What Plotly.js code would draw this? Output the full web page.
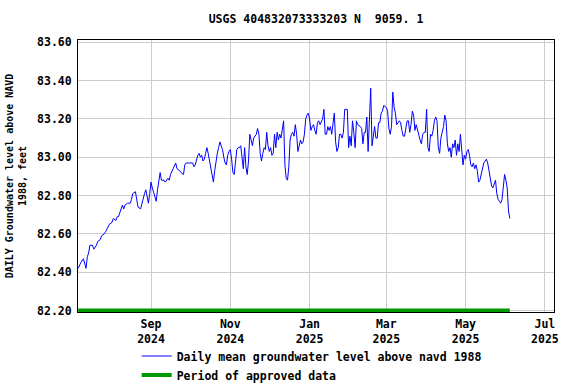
<!DOCTYPE html>
<html>
<head>
<meta charset="utf-8">
<script src="https://cdn.plot.ly/plotly-3.0.1.min.js"></script>
<style>html,body{margin:0;padding:0;background:#fff;}#chart{width:576px;height:384px;}</style>
</head>
<body>
<div id="chart"></div>
<script>
const chartTitle = 'USGS 404832073333203 N  9059. 1';
const yTitle = 'DAILY Groundwater level above NAVD<br>1988, feet';
const seriesName = 'Daily mean groundwater level above navd 1988';
const approvedName = 'Period of approved data';

const dates = [
'2024-07-07','2024-07-09','2024-07-11','2024-07-12','2024-07-13','2024-07-14','2024-07-15','2024-07-16','2024-07-18','2024-07-19',
'2024-07-21','2024-07-22','2024-07-24','2024-07-25','2024-07-27','2024-07-28','2024-07-30','2024-07-31',
'2024-08-02','2024-08-03','2024-08-05','2024-08-06','2024-08-07','2024-08-08','2024-08-10','2024-08-11','2024-08-12','2024-08-14',
'2024-08-16','2024-08-17','2024-08-18','2024-08-20','2024-08-21','2024-08-22','2024-08-24','2024-08-25','2024-08-26','2024-08-27',
'2024-08-28','2024-08-29','2024-08-30','2024-08-31',
'2024-09-01','2024-09-02','2024-09-04','2024-09-05','2024-09-06','2024-09-07','2024-09-08','2024-09-09','2024-09-11','2024-09-12',
'2024-09-14','2024-09-15','2024-09-16','2024-09-18','2024-09-19','2024-09-20','2024-09-21','2024-09-23','2024-09-24','2024-09-26',
'2024-09-27','2024-09-28','2024-09-30',
'2024-10-02','2024-10-03','2024-10-04','2024-10-05','2024-10-07','2024-10-08','2024-10-09','2024-10-10','2024-10-11','2024-10-12',
'2024-10-13','2024-10-14','2024-10-15','2024-10-16','2024-10-17','2024-10-18','2024-10-19','2024-10-20','2024-10-21','2024-10-22',
'2024-10-23','2024-10-24','2024-10-25','2024-10-26','2024-10-27','2024-10-28','2024-10-29','2024-10-30','2024-10-31',
'2024-11-01','2024-11-02','2024-11-03','2024-11-04','2024-11-05','2024-11-06','2024-11-07','2024-11-08','2024-11-09','2024-11-10',
'2024-11-11','2024-11-12','2024-11-13','2024-11-14','2024-11-15','2024-11-16','2024-11-17','2024-11-18','2024-11-19','2024-11-20',
'2024-11-21','2024-11-22','2024-11-23','2024-11-24','2024-11-25','2024-11-26','2024-11-27','2024-11-28','2024-11-29','2024-11-30',
'2024-12-01','2024-12-02','2024-12-03','2024-12-04','2024-12-05','2024-12-06','2024-12-07','2024-12-08','2024-12-09','2024-12-10',
'2024-12-11','2024-12-12','2024-12-13','2024-12-14','2024-12-15','2024-12-16','2024-12-17','2024-12-18','2024-12-19','2024-12-20',
'2024-12-21','2024-12-22','2024-12-23','2024-12-24','2024-12-25','2024-12-26','2024-12-27','2024-12-28','2024-12-29','2024-12-30',
'2024-12-31',
'2025-01-01','2025-01-02','2025-01-03','2025-01-04','2025-01-05','2025-01-06','2025-01-07','2025-01-08','2025-01-09','2025-01-10',
'2025-01-11','2025-01-12','2025-01-13','2025-01-14','2025-01-15','2025-01-16','2025-01-17','2025-01-18','2025-01-20','2025-01-21',
'2025-01-22','2025-01-23','2025-01-24','2025-01-25','2025-01-26','2025-01-27','2025-01-28','2025-01-29','2025-01-30','2025-01-31',
'2025-02-01','2025-02-02','2025-02-03','2025-02-04','2025-02-05','2025-02-06','2025-02-07','2025-02-09','2025-02-10','2025-02-11',
'2025-02-12','2025-02-13','2025-02-14','2025-02-15','2025-02-16','2025-02-17','2025-02-18','2025-02-19','2025-02-20','2025-02-21',
'2025-02-22','2025-02-23','2025-02-24','2025-02-25','2025-02-26','2025-02-27',
'2025-03-01','2025-03-02','2025-03-03','2025-03-04','2025-03-05','2025-03-06','2025-03-07','2025-03-08','2025-03-09','2025-03-11',
'2025-03-12','2025-03-13','2025-03-14','2025-03-15','2025-03-16','2025-03-17','2025-03-18','2025-03-19','2025-03-20','2025-03-21',
'2025-03-22','2025-03-23','2025-03-24','2025-03-25','2025-03-26','2025-03-27','2025-03-28','2025-03-29','2025-03-30','2025-03-31',
'2025-04-01','2025-04-02','2025-04-03','2025-04-04','2025-04-05','2025-04-06','2025-04-07','2025-04-08','2025-04-09','2025-04-10',
'2025-04-11','2025-04-12','2025-04-13','2025-04-14','2025-04-15','2025-04-16','2025-04-17','2025-04-18','2025-04-19','2025-04-20',
'2025-04-21','2025-04-22','2025-04-23','2025-04-24','2025-04-25','2025-04-26','2025-04-27','2025-04-28','2025-04-29','2025-04-30',
'2025-05-01','2025-05-02','2025-05-03','2025-05-04','2025-05-05','2025-05-06','2025-05-07','2025-05-08','2025-05-09','2025-05-10',
'2025-05-11','2025-05-12','2025-05-13','2025-05-14','2025-05-15','2025-05-16','2025-05-17','2025-05-18','2025-05-20','2025-05-21',
'2025-05-22','2025-05-23','2025-05-24','2025-05-25','2025-05-26','2025-05-27','2025-05-28','2025-05-29','2025-05-30','2025-05-31',
'2025-06-01','2025-06-02','2025-06-03','2025-06-04'
];

const levels = [
82.42,82.45,82.47,82.44,82.42,82.48,82.50,82.54,82.54,82.52,
82.54,82.56,82.57,82.59,82.60,82.61,82.64,82.65,
82.66,82.68,82.67,82.69,82.69,82.71,82.75,82.73,82.75,82.76,
82.76,82.78,82.81,82.82,82.77,82.74,82.73,82.76,82.78,82.81,
82.83,82.79,82.76,82.81,
82.87,82.84,82.79,82.77,82.83,82.88,82.92,82.88,82.88,82.87,
82.89,82.88,82.91,82.94,82.96,82.97,82.94,82.93,82.92,82.91,
82.96,82.97,82.97,
82.97,82.97,82.95,82.96,83.01,83.02,83.00,83.01,82.98,82.99,
83.02,83.05,83.02,82.98,82.93,82.90,82.87,82.93,82.99,83.02,
83.05,83.08,83.06,83.04,83.00,82.97,82.96,83.01,83.03,
83.04,82.99,82.92,82.91,82.98,83.04,83.05,83.05,83.06,82.98,
82.94,83.05,82.95,82.91,82.98,83.12,83.08,83.06,83.10,83.11,
83.12,83.15,83.12,83.02,82.98,83.02,83.05,83.04,83.13,83.06,
83.03,83.05,83.01,83.02,83.12,83.05,83.13,83.09,83.12,83.10,
83.14,83.19,82.96,82.89,82.88,82.95,83.09,83.12,83.13,83.11,
83.17,83.12,83.03,83.07,83.09,83.07,83.08,83.12,83.20,83.22,
83.23,
83.20,83.14,83.16,83.17,83.14,83.12,83.18,83.19,83.17,83.19,
83.20,83.25,83.12,83.12,83.16,83.14,83.16,83.12,83.23,83.08,
83.03,83.05,83.12,83.12,83.10,83.13,83.25,83.25,83.25,83.05,
83.11,83.06,83.19,83.13,83.05,83.19,83.17,83.16,83.15,83.07,
83.13,83.13,83.21,83.03,83.18,83.36,83.06,83.12,83.16,83.10,
83.10,83.18,83.18,83.23,83.24,83.27,
83.26,83.24,83.15,83.12,83.16,83.34,83.26,83.23,83.17,83.19,
83.18,83.14,83.11,83.11,83.15,83.19,83.19,83.13,83.17,83.24,
83.22,83.14,83.17,83.14,83.11,83.09,83.07,83.12,83.13,83.13,
83.25,83.05,83.03,83.12,83.11,83.14,83.19,83.21,83.19,83.05,
83.02,83.10,83.13,83.16,83.22,83.19,83.07,83.03,83.05,83.00,
83.07,83.05,83.09,83.01,83.07,83.03,83.12,83.01,82.96,83.01,
82.99,83.03,83.04,83.01,82.96,82.95,82.97,82.94,82.96,82.93,
82.87,82.88,82.91,82.93,82.97,82.98,82.99,82.97,82.90,82.85,
82.84,82.86,82.88,82.81,82.78,82.77,82.76,82.78,82.85,82.91,
82.88,82.84,82.72,82.68
];

const approvedDates = ['2024-07-07', '2025-06-04'];
const approvedLevel = [82.20, 82.20];

const xRange = ['2024-07-06 20:00', '2025-07-08 00:00'];
const yRange = [82.192, 83.612];

const monoBold = {family: '"DejaVu Sans Mono", "Liberation Mono", monospace', size: 11.5, color: '#000', weight: 'bold'};

const traces = [
  {
    x: dates, y: levels, type: 'scatter', mode: 'lines', name: seriesName,
    line: {color: '#0000ff', width: 1}
  },
  {
    x: approvedDates, y: approvedLevel, type: 'scatter', mode: 'lines', name: approvedName,
    line: {color: '#009900', width: 4}
  }
];

const layout = {
  width: 576, height: 384,
  margin: {l: 78, r: 22, t: 40, b: 72, pad: 0, autoexpand: false},
  paper_bgcolor: '#ffffff', plot_bgcolor: '#ffffff',
  font: monoBold,
  title: {text: chartTitle, font: monoBold, xref: 'paper', x: 0.5, xanchor: 'center', yref: 'container', y: 0.95, yanchor: 'middle'},
  xaxis: {
    type: 'date', range: xRange, tick0: '2024-09-01', dtick: 'M2', tickformat: '%b<br>%Y',
    showgrid: true, gridcolor: '#cccccc', gridwidth: 1,
    showline: true, linecolor: '#000', linewidth: 1, mirror: true,
    ticks: '', tickfont: monoBold, zeroline: false, fixedrange: true, automargin: false,
    ticklabelstandoff: 1
  },
  yaxis: {
    range: yRange, tick0: 82.2, dtick: 0.2, tickformat: '.2f',
    showgrid: true, gridcolor: '#cccccc', gridwidth: 1,
    showline: true, linecolor: '#000', linewidth: 1, mirror: true,
    ticks: '', tickfont: monoBold, zeroline: false, ticklabelstandoff: 3,
    title: {text: yTitle, font: {family: monoBold.family, size: 10, color: '#000', weight: 'bold'}, standoff: 8},
    automargin: false, fixedrange: true
  },
  showlegend: true,
  legend: {
    xref: 'paper', yref: 'paper', x: 0.1233, y: -0.1085, xanchor: 'left', yanchor: 'top',
    orientation: 'v', font: monoBold, bgcolor: 'rgba(0,0,0,0)', borderwidth: 0, tracegroupgap: 0
  }
};

Plotly.newPlot('chart', traces, layout, {staticPlot: true, displayModeBar: false});
</script>
</body>
</html>
